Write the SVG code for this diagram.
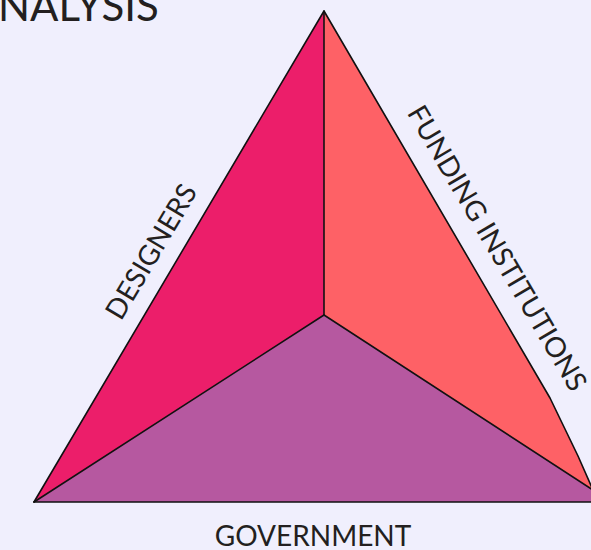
<svg xmlns="http://www.w3.org/2000/svg" width="591" height="550" viewBox="0 0 591 550">
  <style>
    .face { stroke: none; }
    .edge { fill: none; stroke: #111111; stroke-width: 1.6; stroke-linejoin: round; stroke-linecap: round; }
    .label { font-family: "Lato", "Liberation Sans", sans-serif; font-size: 28px; fill: #231F20; }
    .title { font-family: "Lato", "Liberation Sans", sans-serif; font-size: 42px; fill: #231F20; }
  </style>
  <rect width="591" height="550" fill="#F0EFFD"/>

  <text class="title" x="-2" y="21">NALYSIS</text>

  <!-- three faces of the stakeholder pyramid -->
  <g id="designers-face">
    <polygon class="face" fill="#EC1E6A" points="324,11 34,502 324,315"/>
  </g>
  <g id="funding-face">
    <polygon class="face" fill="#FE6166" points="324,11 324,315 593,490 578,456 550,398"/>
  </g>
  <g id="government-face">
    <polygon class="face" fill="#B658A0" points="34,502 324,315 593,490 593,502"/>
  </g>

  <!-- outlines and inner ridges -->
  <g id="edges">
    <polyline class="edge" points="34,502 324,11 550,398 578,456 593,490"/>
    <line class="edge" x1="34" y1="502" x2="593" y2="502"/>
    <line class="edge" x1="324" y1="11" x2="324" y2="315"/>
    <line class="edge" x1="34" y1="502" x2="324" y2="315"/>
    <line class="edge" x1="324" y1="315" x2="593" y2="490"/>
  </g>

  <g id="labels">
    <text class="label" text-anchor="middle" transform="translate(151,251.5) rotate(-59.4)" y="10">DESIGNERS</text>
    <text class="label" text-anchor="middle" transform="translate(497.5,248) rotate(59.6)" y="10">FUNDING INSTITUTIONS</text>
    <text class="label" text-anchor="middle" x="313" y="546">GOVERNMENT</text>
  </g>
</svg>
